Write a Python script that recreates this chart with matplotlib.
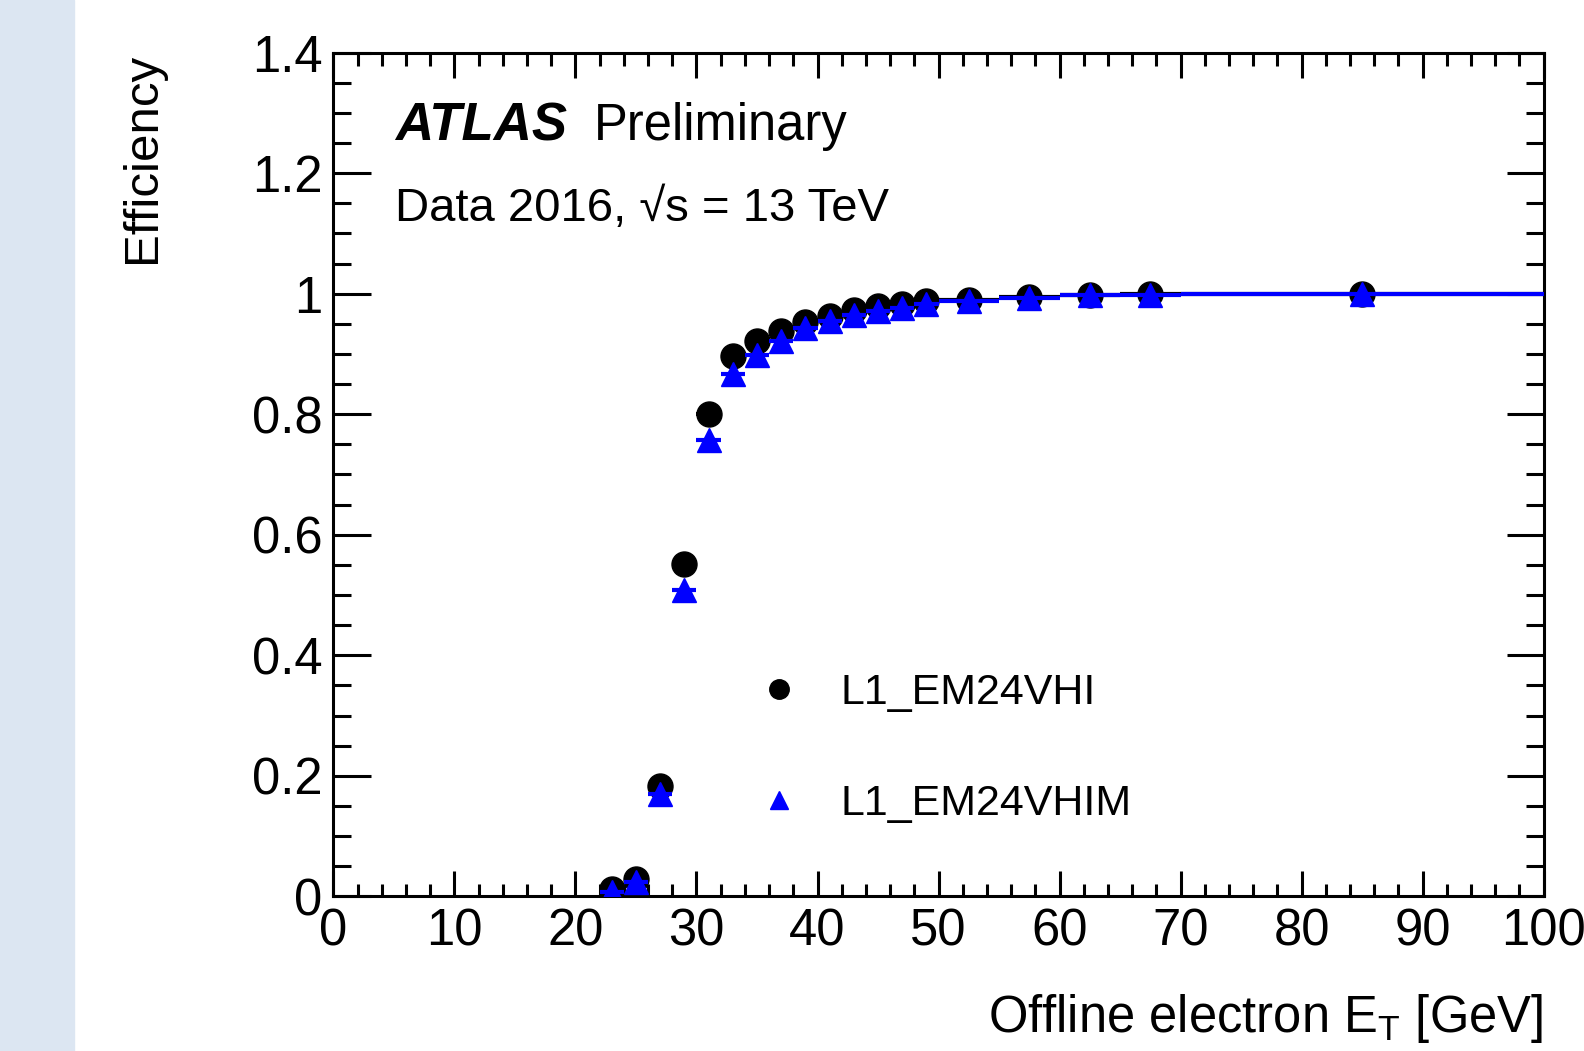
import matplotlib
matplotlib.use("Agg")
import matplotlib.pyplot as plt
from matplotlib.patches import Rectangle
from matplotlib.lines import Line2D
from matplotlib.ticker import MultipleLocator, FuncFormatter

plt.rcParams['font.family'] = ['Liberation Sans', 'DejaVu Sans']
plt.rcParams['mathtext.fontset'] = 'custom'
plt.rcParams['mathtext.rm'] = 'Liberation Sans'
plt.rcParams['mathtext.it'] = 'Liberation Sans'

# bin centres and half widths [GeV]
et_centre = [23, 25, 27, 29, 31, 33, 35, 37, 39, 41, 43, 45, 47, 49, 52.5, 57.5, 62.5, 67.5, 85]
et_halfw = [1, 1, 1, 1, 1, 1, 1, 1, 1, 1, 1, 1, 1, 1, 2.5, 2.5, 2.5, 2.5, 15]

eff_vhi = [0.012, 0.029, 0.183, 0.551, 0.800, 0.897, 0.921, 0.938, 0.953, 0.963,
           0.973, 0.980, 0.983, 0.988, 0.990, 0.995, 0.998, 0.999, 1.000]
eff_vhim = [0.008, 0.024, 0.170, 0.509, 0.758, 0.866, 0.899, 0.921, 0.943, 0.955,
            0.965, 0.971, 0.976, 0.983, 0.987, 0.993, 0.997, 0.998, 0.9995]

labels = ["L1_EM24VHI", "L1_EM24VHIM"]

fig = plt.figure(figsize=(15.84, 10.51), dpi=100)
fig.patches.append(Rectangle((0, 0), 74 / 1584, 1, transform=fig.transFigure,
                             color='#dce6f2', zorder=0))

ax = fig.add_axes([0.2105, 0.1471, 0.7640, 0.8029])

ax.errorbar(et_centre, eff_vhi, xerr=et_halfw, fmt='o', color='black',
            markersize=18, elinewidth=3, capsize=0, zorder=3)
ax.errorbar(et_centre, eff_vhim, xerr=et_halfw, fmt='^', color='blue',
            markersize=17, elinewidth=3, capsize=0, zorder=4)

ax.set_xlim(0, 100)
ax.set_ylim(0, 1.4)
ax.xaxis.set_major_locator(MultipleLocator(10))
ax.xaxis.set_minor_locator(MultipleLocator(2))
ax.yaxis.set_major_locator(MultipleLocator(0.2))
ax.yaxis.set_minor_locator(MultipleLocator(0.05))
ax.yaxis.set_major_formatter(FuncFormatter(lambda v, p: f"{v:g}"))

ax.tick_params(axis='both', which='both', direction='in', top=True, right=True,
               width=2.2, labelsize=36.5)
ax.tick_params(axis='x', which='major', length=18, pad=8)
ax.tick_params(axis='x', which='minor', length=9)
ax.tick_params(axis='y', which='major', length=27, pad=8)
ax.tick_params(axis='y', which='minor', length=13)
for s in ax.spines.values():
    s.set_linewidth(2.2)

ax.set_xlabel(r"Offline electron E$_\mathrm{T}$ [GeV]", fontsize=36.5, ha='right')
ax.xaxis.set_label_coords(1.0, -0.113)
ax.set_ylabel("Efficiency", fontsize=35.5, ha='right')
ax.yaxis.set_label_coords(-0.139, 1.0)

ax.text(0.051, 0.896, "ATLAS", transform=ax.transAxes, fontsize=38,
        fontweight='bold', fontstyle='italic')
ax.text(0.215, 0.896, "Preliminary", transform=ax.transAxes, fontsize=36.5)
ax.text(0.051, 0.800, "Data 2016, \u221as = 13 TeV",
        transform=ax.transAxes, fontsize=34)

handles = [Line2D([], [], marker='o', ls='none', color='black', markersize=14),
           Line2D([], [], marker='^', ls='none', color='blue', markersize=13)]
ax.legend(handles, labels, loc='upper left', bbox_to_anchor=(0.329, 0.285),
          frameon=False, fontsize=31, labelspacing=1.65, handletextpad=0.72,
          handlelength=1.4, borderaxespad=0)

fig.savefig("out.png", dpi=100)
